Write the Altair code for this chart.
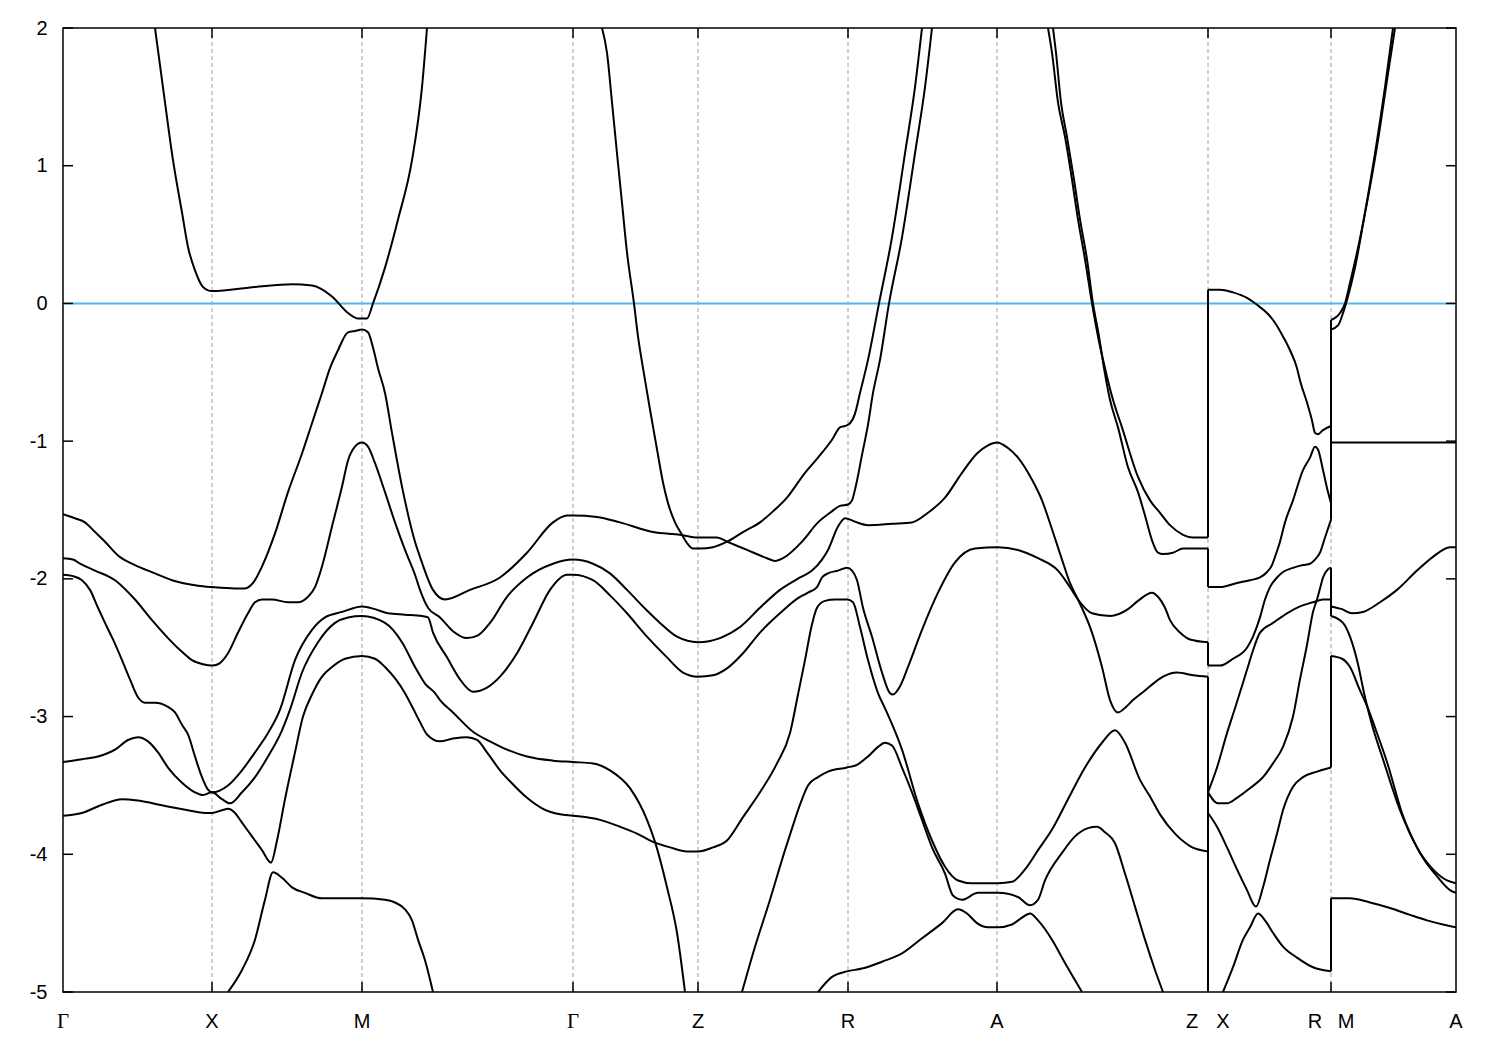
import altair as alt
import pandas as pd

# ---------------- k-path (path length, arbitrary units) ----------------
GRID_K = [1.49, 2.99, 5.10, 6.35, 7.85, 9.34, 11.45, 12.68]
SANS_LABELS = ["X", "M", "Z", "R", "A", "A"]
SANS_LABEL_K = [1.49, 2.99, 6.35, 7.85, 9.34, 13.93]
SERIF_LABELS = ["Γ", "Γ"]
SERIF_LABEL_K = [0.0, 5.10]
PAIR_LEFT = ["Z", "R"]
PAIR_RIGHT = ["X", "M"]
PAIR_K = [11.45, 12.68]
Y_TICKS = [-5, -4, -3, -2, -1, 0, 1, 2]
K_MIN, K_MAX = 0.0, 13.93

# ---------------- bands: (k, E) ----------------
cb1 = [(0.92,2.00),(1.02,1.46),(1.10,1.04),(1.19,0.66),(1.25,0.41),(1.32,0.24),(1.40,0.12),(1.49,0.09),
       (1.92,0.12),(2.29,0.14),(2.49,0.13),(2.69,0.05),(2.85,-0.07),(2.95,-0.11),(3.04,-0.11),(3.10,0.00),
       (3.22,0.26),(3.35,0.61),(3.49,1.04),(3.59,1.57),(3.64,2.00)]

cb2 = [(5.39,2.00),(5.44,1.82),(5.49,1.46),(5.54,1.09),(5.59,0.73),(5.64,0.37),(5.71,0.00),(5.75,-0.24),
       (5.80,-0.47),(5.87,-0.77),(5.94,-1.06),(6.00,-1.30),(6.05,-1.45),(6.12,-1.59),(6.19,-1.68),(6.24,-1.74),
       (6.30,-1.78),(6.37,-1.78),(6.50,-1.77),(6.64,-1.73),(6.80,-1.66),(6.97,-1.59),(7.10,-1.51),(7.24,-1.41),
       (7.42,-1.23),(7.55,-1.12),(7.69,-0.99),(7.77,-0.90),(7.82,-0.89),(7.87,-0.87),(7.92,-0.80),(7.97,-0.65),
       (8.05,-0.41),(8.16,0.00),(8.29,0.48),(8.42,1.09),(8.52,1.57),(8.59,2.00)]

v1 = [(0.00,-1.53),(0.12,-1.56),(0.22,-1.59),(0.32,-1.66),(0.42,-1.73),(0.55,-1.83),(0.72,-1.90),(0.92,-1.96),
      (1.09,-2.01),(1.35,-2.05),(1.49,-2.06),(1.72,-2.07),(1.82,-2.07),(1.90,-2.03),(1.99,-1.91),(2.12,-1.67),
      (2.25,-1.37),(2.39,-1.09),(2.49,-0.87),(2.59,-0.65),(2.67,-0.47),(2.75,-0.34),(2.85,-0.21),(2.92,-0.20),
      (2.99,-0.19),(3.05,-0.21),(3.10,-0.32),(3.15,-0.47),(3.22,-0.65),(3.29,-0.94),(3.39,-1.33),(3.52,-1.73),
      (3.57,-1.84),(3.70,-2.08),(3.82,-2.15),(4.07,-2.08),(4.37,-1.99),(4.64,-1.81),(4.90,-1.59),(5.04,-1.54),
      (5.10,-1.54),(5.34,-1.55),(5.57,-1.59),(5.90,-1.66),(6.17,-1.68),(6.35,-1.70),(6.54,-1.70),(6.64,-1.73),
      (6.84,-1.79),(7.04,-1.85),(7.12,-1.87),(7.20,-1.85),(7.39,-1.73),(7.55,-1.59),(7.67,-1.52),(7.77,-1.47),
      (7.85,-1.46),(7.89,-1.43),(7.93,-1.32),(7.99,-1.10),(8.05,-0.88),(8.10,-0.65),(8.17,-0.41),(8.26,0.00),
      (8.39,0.48),(8.52,1.09),(8.62,1.57),(8.69,2.00)]

q_c = [(9.85,2.00),(9.89,1.82),(9.95,1.46),(10.02,1.21),(10.09,0.90),(10.15,0.61),(10.22,0.32),(10.29,0.00),
       (10.35,-0.24),(10.42,-0.47),(10.50,-0.70),(10.59,-0.90),(10.75,-1.26),(10.87,-1.43),(10.97,-1.52),
       (11.07,-1.61),(11.20,-1.68),(11.30,-1.70),(11.45,-1.70),(11.45,0.10),(11.57,0.10),(11.70,0.08),
       (11.84,0.04),(11.94,-0.01),(12.04,-0.07),(12.12,-0.14),(12.20,-0.24),(12.27,-0.34),(12.34,-0.47),
       (12.37,-0.56),(12.44,-0.72),(12.49,-0.85),(12.52,-0.94),(12.55,-0.95),(12.60,-0.92),(12.68,-0.89),
       (12.68,-0.12),(12.77,-0.07),(12.82,0.00),(12.87,0.15),(12.94,0.37),(13.04,0.73),(13.14,1.14),
       (13.24,1.62),(13.32,2.00)]

p_d = [(9.90,2.00),(9.93,1.82),(9.98,1.46),(10.04,1.21),(10.11,0.90),(10.17,0.61),(10.24,0.32),(10.30,0.00),
       (10.36,-0.24),(10.41,-0.47),(10.47,-0.70),(10.55,-0.90),(10.65,-1.19),(10.75,-1.37),(10.82,-1.54),
       (10.89,-1.72),(10.95,-1.81),(11.00,-1.82),(11.10,-1.81),(11.20,-1.78),(11.34,-1.78),(11.45,-1.78),
       (11.45,-2.06),(11.57,-2.06),(11.74,-2.03),(11.87,-2.01),(11.97,-1.99),(12.04,-1.95),(12.09,-1.90),
       (12.12,-1.84),(12.17,-1.73),(12.22,-1.59),(12.30,-1.43),(12.40,-1.21),(12.47,-1.12),(12.52,-1.04),
       (12.55,-1.06),(12.60,-1.21),(12.65,-1.37),(12.68,-1.45),(12.68,-0.19),(12.75,-0.16),(12.80,-0.07),
       (12.85,0.05),(12.92,0.26),(13.02,0.66),(13.12,1.09),(13.22,1.57),(13.30,2.00)]

v2 = [(0.00,-1.85),(0.10,-1.86),(0.17,-1.89),(0.32,-1.94),(0.52,-2.01),(0.72,-2.15),(0.89,-2.30),(1.05,-2.43),
      (1.19,-2.53),(1.29,-2.59),(1.40,-2.62),(1.49,-2.63),(1.55,-2.62),(1.65,-2.54),(1.75,-2.39),(1.85,-2.25),
      (1.92,-2.17),(1.99,-2.15),(2.09,-2.15),(2.25,-2.17),(2.35,-2.17),(2.45,-2.13),(2.52,-2.06),(2.59,-1.91),
      (2.69,-1.62),(2.79,-1.33),(2.85,-1.14),(2.92,-1.04),(2.99,-1.01),(3.05,-1.04),(3.12,-1.16),(3.22,-1.37),
      (3.32,-1.59),(3.42,-1.79),(3.52,-1.97),(3.57,-2.08),(3.65,-2.21),(3.77,-2.28),(3.90,-2.38),(4.04,-2.43),
      (4.15,-2.41),(4.27,-2.32),(4.44,-2.13),(4.64,-1.99),(4.90,-1.89),(5.10,-1.86),(5.30,-1.89),(5.47,-1.96),
      (5.64,-2.08),(5.84,-2.23),(5.97,-2.32),(6.14,-2.42),(6.35,-2.46),(6.57,-2.43),(6.77,-2.35),(6.97,-2.21),
      (7.17,-2.08),(7.37,-1.99),(7.49,-1.94),(7.59,-1.86),(7.65,-1.79),(7.75,-1.62),(7.82,-1.56),(7.87,-1.57),
      (7.94,-1.59),(8.05,-1.61),(8.29,-1.60),(8.49,-1.59),(8.65,-1.52),(8.82,-1.41),(8.99,-1.23),(9.14,-1.09),
      (9.25,-1.03),(9.34,-1.01),(9.45,-1.05),(9.55,-1.12),(9.69,-1.28),(9.79,-1.43),(9.89,-1.64),(9.99,-1.86),
      (10.07,-2.03),(10.15,-2.15),(10.29,-2.39),(10.39,-2.64),(10.47,-2.88),(10.55,-2.97),(10.63,-2.93),
      (10.70,-2.88),(10.82,-2.81),(10.87,-2.78),(11.00,-2.71),(11.14,-2.68),(11.30,-2.70),(11.45,-2.71),
      (11.45,-3.55),(11.54,-3.37),(11.64,-3.12),(11.72,-2.94),(11.84,-2.66),(11.90,-2.52),(11.97,-2.39),
      (12.10,-2.32),(12.24,-2.25),(12.37,-2.20),(12.50,-2.17),(12.60,-2.15),(12.68,-2.15),(12.68,-2.27),
      (12.80,-2.32),(12.87,-2.42),(12.94,-2.59),(13.02,-2.86),(13.09,-3.06),(13.20,-3.31),(13.37,-3.68),
      (13.54,-3.95),(13.70,-4.11),(13.84,-4.19),(13.93,-4.21)]

v3 = [(0.00,-1.97),(0.10,-1.98),(0.19,-2.01),(0.27,-2.08),(0.35,-2.21),(0.42,-2.32),(0.50,-2.44),(0.59,-2.59),
      (0.67,-2.73),(0.75,-2.86),(0.82,-2.90),(0.92,-2.90),(1.05,-2.93),(1.12,-2.97),(1.19,-3.06),(1.25,-3.13),
      (1.32,-3.29),(1.39,-3.44),(1.45,-3.53),(1.49,-3.55),(1.65,-3.50),(1.79,-3.39),(1.92,-3.26),(2.05,-3.12),
      (2.17,-2.95),(2.32,-2.59),(2.49,-2.37),(2.62,-2.28),(2.79,-2.24),(2.99,-2.20),(3.12,-2.22),(3.25,-2.25),
      (3.42,-2.26),(3.59,-2.27),(3.65,-2.28),(3.70,-2.39),(3.84,-2.57),(3.97,-2.73),(4.10,-2.82),(4.24,-2.79),
      (4.37,-2.71),(4.54,-2.54),(4.70,-2.32),(4.87,-2.08),(5.04,-1.97),(5.10,-1.97),(5.30,-2.01),(5.47,-2.12),
      (5.64,-2.25),(5.84,-2.42),(6.04,-2.57),(6.20,-2.68),(6.35,-2.71),(6.50,-2.70),(6.64,-2.65),(6.80,-2.54),
      (6.97,-2.39),(7.17,-2.25),(7.35,-2.14),(7.45,-2.10),(7.54,-2.06),(7.59,-1.99),(7.65,-1.96),(7.75,-1.94),
      (7.84,-1.92),(7.89,-1.94),(7.94,-2.01),(8.00,-2.21),(8.09,-2.42),(8.19,-2.68),(8.27,-2.83),(8.30,-2.84),
      (8.37,-2.78),(8.45,-2.64),(8.59,-2.37),(8.75,-2.10),(8.92,-1.88),(9.12,-1.78),(9.35,-1.77),(9.55,-1.79),
      (9.75,-1.85),(9.95,-1.94),(10.07,-2.06),(10.15,-2.15),(10.29,-2.25),(10.47,-2.27),(10.65,-2.22),
      (10.75,-2.16),(10.89,-2.10),(10.95,-2.13),(11.02,-2.21),(11.07,-2.30),(11.17,-2.39),(11.27,-2.44),
      (11.45,-2.46),(11.45,-2.63),(11.57,-2.63),(11.70,-2.58),(11.84,-2.50),(11.90,-2.42),(11.97,-2.28),
      (12.02,-2.15),(12.07,-2.06),(12.14,-1.99),(12.20,-1.95),(12.30,-1.92),(12.40,-1.90),(12.47,-1.89),
      (12.52,-1.86),(12.57,-1.81),(12.62,-1.70),(12.68,-1.57),(12.68,-1.01),(13.20,-1.01),(13.77,-1.01),
      (13.93,-1.01)]

v4 = [(0.00,-3.33),(0.19,-3.31),(0.35,-3.29),(0.52,-3.24),(0.65,-3.17),(0.75,-3.15),(0.85,-3.18),(0.95,-3.26),
      (1.05,-3.37),(1.19,-3.48),(1.32,-3.55),(1.40,-3.57),(1.49,-3.55),(1.59,-3.60),(1.67,-3.63),(1.79,-3.55),
      (1.92,-3.44),(2.05,-3.29),(2.19,-3.10),(2.27,-2.95),(2.39,-2.68),(2.55,-2.46),(2.72,-2.32),(2.85,-2.28),
      (2.99,-2.27),(3.22,-2.32),(3.39,-2.46),(3.52,-2.64),(3.62,-2.76),(3.72,-2.83),(3.77,-2.88),(3.90,-2.97),
      (4.10,-3.11),(4.27,-3.18),(4.44,-3.24),(4.64,-3.29),(4.90,-3.32),(5.10,-3.33),(5.30,-3.34),(5.47,-3.39),
      (5.67,-3.52),(5.84,-3.75),(5.92,-3.91),(6.04,-4.24),(6.14,-4.57),(6.22,-5.00)]

v5 = [(0.00,-3.72),(0.19,-3.70),(0.39,-3.64),(0.59,-3.60),(0.75,-3.61),(1.02,-3.65),(1.25,-3.68),(1.42,-3.70),
      (1.49,-3.70),(1.59,-3.68),(1.65,-3.67),(1.72,-3.70),(1.79,-3.77),(1.89,-3.87),(1.99,-3.97),(2.08,-4.06),
      (2.14,-3.90),(2.22,-3.60),(2.32,-3.26),(2.40,-3.00),(2.49,-2.84),(2.59,-2.71),(2.69,-2.64),(2.82,-2.58),
      (2.99,-2.56),(3.12,-2.58),(3.22,-2.64),(3.42,-2.83),(3.50,-2.94),(3.57,-3.04),(3.64,-3.13),(3.77,-3.18),
      (3.90,-3.16),(4.04,-3.15),(4.14,-3.17),(4.24,-3.26),(4.37,-3.39),(4.47,-3.47),(4.64,-3.59),(4.80,-3.67),
      (4.97,-3.71),(5.10,-3.72),(5.37,-3.75),(5.57,-3.80),(5.74,-3.85),(5.90,-3.91),(6.07,-3.95),(6.24,-3.98),
      (6.35,-3.98),(6.50,-3.95),(6.64,-3.90),(6.80,-3.73),(6.97,-3.55),(7.14,-3.34),(7.27,-3.12),(7.35,-2.84),
      (7.42,-2.59),(7.49,-2.33),(7.54,-2.21),(7.62,-2.16),(7.72,-2.15),(7.84,-2.15),(7.90,-2.17),(7.97,-2.35),
      (8.05,-2.59),(8.15,-2.83),(8.22,-2.94),(8.39,-3.24),(8.55,-3.63),(8.69,-3.90),(8.82,-4.09),(8.95,-4.19),
      (9.09,-4.21),(9.22,-4.21),(9.35,-4.21),(9.49,-4.20),(9.62,-4.11),(9.75,-3.97),(9.89,-3.82),(10.05,-3.60),
      (10.22,-3.37),(10.39,-3.19),(10.52,-3.10),(10.62,-3.19),(10.77,-3.46),(10.87,-3.58),(10.97,-3.71),
      (11.12,-3.85),(11.27,-3.94),(11.45,-3.98),(11.45,-3.55),(11.55,-3.63),(11.64,-3.63),(11.74,-3.59),
      (11.87,-3.52),(12.00,-3.44),(12.10,-3.34),(12.20,-3.22),(12.30,-3.00),(12.37,-2.73),(12.44,-2.48),
      (12.50,-2.24),(12.54,-2.15),(12.57,-2.07),(12.60,-1.99),(12.65,-1.93),(12.68,-1.92),(12.68,-2.20),
      (12.79,-2.22),(12.89,-2.25),(13.00,-2.24),(13.17,-2.17),(13.34,-2.08),(13.54,-1.94),(13.70,-1.84),
      (13.87,-1.77),(13.93,-1.77)]

v6 = [(6.79,-5.00),(6.90,-4.72),(7.07,-4.33),(7.22,-3.97),(7.30,-3.79),(7.37,-3.64),(7.45,-3.50),(7.55,-3.44),
      (7.65,-3.40),(7.84,-3.37),(7.94,-3.35),(8.05,-3.29),(8.15,-3.22),(8.22,-3.19),(8.29,-3.21),(8.39,-3.37),
      (8.49,-3.55),(8.59,-3.75),(8.69,-3.95),(8.82,-4.14),(8.90,-4.30),(8.99,-4.33),(9.15,-4.28),(9.35,-4.28),
      (9.55,-4.31),(9.67,-4.37),(9.75,-4.33),(9.82,-4.19),(9.99,-3.99),(10.12,-3.87),(10.25,-3.81),(10.34,-3.80),
      (10.42,-3.84),(10.52,-3.92),(10.62,-4.14),(10.72,-4.38),(10.82,-4.62),(10.92,-4.84),(11.00,-5.00)]

h = [(11.45,-5.00),(11.45,-3.70),(11.54,-3.80),(11.64,-3.95),(11.74,-4.11),(11.84,-4.26),(11.93,-4.38),
     (12.00,-4.24),(12.07,-4.04),(12.14,-3.85),(12.20,-3.68),(12.30,-3.51),(12.40,-3.44),(12.54,-3.40),
     (12.68,-3.37),(12.68,-2.56),(12.79,-2.58),(12.87,-2.64),(12.97,-2.81),(13.05,-2.94),(13.12,-3.08),
     (13.24,-3.33),(13.39,-3.70),(13.57,-3.99),(13.74,-4.16),(13.87,-4.26),(13.93,-4.28)]

low_xr = [(11.60,-5.00),(11.70,-4.82),(11.80,-4.62),(11.87,-4.53),(11.95,-4.43),(12.02,-4.48),(12.10,-4.57),
          (12.20,-4.67),(12.34,-4.75),(12.50,-4.82),(12.68,-4.85),(12.68,-4.32),(12.87,-4.32),(13.07,-4.35),
          (13.27,-4.39),(13.47,-4.44),(13.64,-4.48),(13.80,-4.51),(13.93,-4.53)]

low_ra = [(7.55,-5.00),(7.69,-4.89),(7.84,-4.85),(7.99,-4.83),(8.19,-4.78),(8.39,-4.72),(8.59,-4.61),(8.79,-4.50),
          (8.95,-4.40),(9.04,-4.43),(9.14,-4.50),(9.25,-4.53),(9.35,-4.53),(9.49,-4.51),(9.59,-4.46),(9.67,-4.43),
          (9.75,-4.48),(9.89,-4.62),(10.02,-4.79),(10.19,-5.00)]

low_xm = [(1.65,-5.00),(1.79,-4.84),(1.92,-4.62),(2.02,-4.33),(2.10,-4.13),(2.19,-4.17),(2.29,-4.24),(2.42,-4.28),
          (2.59,-4.32),(2.75,-4.32),(2.99,-4.32),(3.22,-4.33),(3.32,-4.35),(3.42,-4.40),(3.49,-4.48),(3.55,-4.62),
          (3.62,-4.77),(3.70,-5.00)]

BANDS = {"cb1": cb1, "cb2": cb2, "v1": v1, "q_c": q_c, "p_d": p_d, "v2": v2, "v3": v3, "v4": v4,
         "v5": v5, "v6": v6, "h": h, "low_xr": low_xr, "low_ra": low_ra, "low_xm": low_xm}

# Split each band into smooth pieces (strictly increasing k) and straight
# vertical jumps at the path discontinuities (two points with equal k).
smooth_rows, jump_rows = [], []
for name, pts in BANDS.items():
    piece = 0
    cur = [pts[0]]
    for a, b in zip(pts[:-1], pts[1:]):
        if b[0] == a[0]:
            for i, (k, e) in enumerate(cur):
                smooth_rows.append({"seg": f"{name}_{piece}", "i": i, "k": k, "E": e})
            jump_rows += [{"seg": f"{name}_j{piece}", "i": 0, "k": a[0], "E": a[1]},
                          {"seg": f"{name}_j{piece}", "i": 1, "k": b[0], "E": b[1]}]
            piece += 1
            cur = [b]
        else:
            cur.append(b)
    for i, (k, e) in enumerate(cur):
        smooth_rows.append({"seg": f"{name}_{piece}", "i": i, "k": k, "E": e})

smooth_df = pd.DataFrame(smooth_rows)
jump_df = pd.DataFrame(jump_rows)

W, H = 1393, 964
FONT = "Liberation Sans"

xscale = alt.Scale(domain=[K_MIN, K_MAX], nice=False, zero=False)
yscale = alt.Scale(domain=[-5, 2], nice=False, zero=False)
yaxis = alt.Axis(values=Y_TICKS, title=None, grid=False, domain=False, ticks=False,
                 tickSize=0, labelFont=FONT, labelFontSize=20, labelColor="black",
                 labelPadding=16, labelExpr="'' + datum.value")

def X(field="k"):
    return alt.X(f"{field}:Q", scale=xscale, axis=None)

def Y(field="E"):
    return alt.Y(f"{field}:Q", scale=yscale, axis=yaxis)

grid = alt.Chart(pd.DataFrame({"k": GRID_K})).mark_rule(
    color="#a0a0a0", strokeDash=[4, 3], strokeWidth=1).encode(x=X())

fermi = alt.Chart(pd.DataFrame({"E": [0]})).mark_rule(
    color="#56b4e9", strokeWidth=2).encode(y=Y())

bands = alt.Chart(smooth_df).mark_line(
    color="black", strokeWidth=2, clip=True, interpolate="monotone").encode(
    x=X(), y=Y(), detail="seg:N", order="i:Q")

jumps = alt.Chart(jump_df).mark_line(color="black", strokeWidth=2, clip=True).encode(
    x=X(), y=Y(), detail="seg:N", order="i:Q")

ytick_df = pd.DataFrame({"E": Y_TICKS})
yticks_l = alt.Chart(ytick_df).mark_rule(color="black", strokeWidth=1.5).encode(
    y=Y(), x=alt.value(0), x2=alt.value(10))
yticks_r = alt.Chart(ytick_df).mark_rule(color="black", strokeWidth=1.5).encode(
    y=Y(), x=alt.value(W - 10), x2=alt.value(W))

xtick_df = pd.DataFrame({"k": GRID_K})
xticks_b = alt.Chart(xtick_df).mark_rule(color="black", strokeWidth=1.5).encode(
    x=X(), y=alt.value(H - 10), y2=alt.value(H))
xticks_t = alt.Chart(xtick_df).mark_rule(color="black", strokeWidth=1.5).encode(
    x=X(), y=alt.value(0), y2=alt.value(10))

def label_layer(labels, ks, font, size, dx=0):
    return alt.Chart(pd.DataFrame({"k": ks, "t": labels})).mark_text(
        font=font, fontSize=size, color="black", baseline="alphabetic", align="center", dx=dx
    ).encode(x=X(), y=alt.value(H + 36), text="t:N")

lab_sans = label_layer(SANS_LABELS, SANS_LABEL_K, FONT, 20)
lab_serif = label_layer(SERIF_LABELS, SERIF_LABEL_K, "Liberation Serif", 21)
lab_left = label_layer(PAIR_LEFT, PAIR_K, FONT, 20, dx=-16)
lab_right = label_layer(PAIR_RIGHT, PAIR_K, FONT, 20, dx=15)

chart = alt.layer(
    grid, fermi, bands, jumps, yticks_l, yticks_r, xticks_b, xticks_t,
    lab_sans, lab_serif, lab_left, lab_right
).properties(
    width=W, height=H,
    autosize=alt.AutoSizeParams(type="none"),
    padding={"left": 55, "top": 20, "right": 36, "bottom": 66},
    background="white",
).configure_view(stroke="black", strokeWidth=1.5)

chart.save("out.html", embed_options={"renderer": "svg", "actions": False})
